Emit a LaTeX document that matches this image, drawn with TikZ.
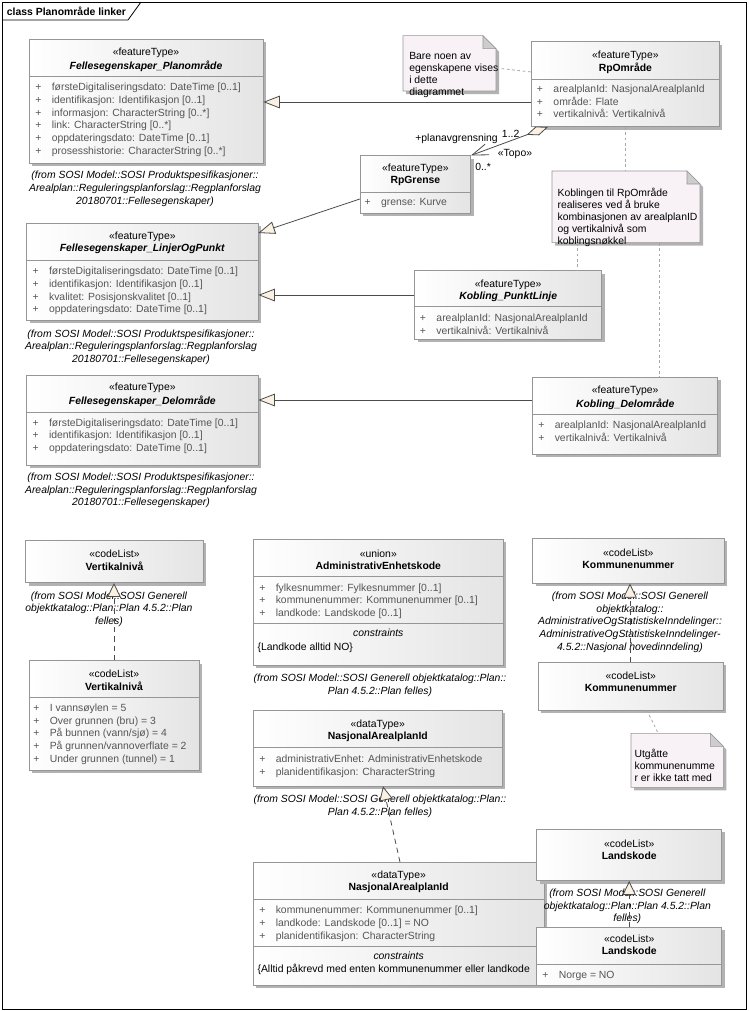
\documentclass[tikz,border=0pt]{standalone}
\usepackage{fontspec}
\setmainfont{Liberation Sans}
\usetikzlibrary{arrows.meta,fit,shadows}
\definecolor{boxline}{RGB}{150,150,150}
\definecolor{boxend}{RGB}{228,228,228}
\definecolor{notefill}{RGB}{248,242,246}
\definecolor{foldgray}{RGB}{205,205,205}
\definecolor{trifill}{RGB}{250,241,226}
\definecolor{attrgray}{RGB}{85,85,85}
\definecolor{linkgray}{RGB}{75,75,75}
\newcommand{\attr}[1]{\strut\makebox[12.4pt][l]{+}#1}
\tikzset{
  boxshadow/.style={drop shadow={shadow xshift=2.25pt, shadow yshift=-2.25pt, fill=black!30, opacity=1}},
  classbox/.style={draw=boxline, left color=white, right color=boxend, inner sep=0pt, boxshadow},
  notebox/.style={draw=boxline, fill=notefill, boxshadow},
  fold/.style={draw=boxline, fill=foldgray},
  divider/.style={draw=boxline},
  frame/.style={draw=black, line width=0.6pt},
  head/.style={font=\fontsize{7.8}{9}\selectfont, align=center, inner sep=0pt, anchor=north},
  attrs/.style={font=\fontsize{7.8}{9.5}\selectfont, text=attrgray, align=left, inner sep=0pt, anchor=north west},
  cons/.style={font=\fontsize{7.8}{9.5}\selectfont, inner sep=0pt, text height=5.7pt, text depth=1.6pt},
  fromtext/.style={font=\fontsize{7.8}{9.5}\selectfont\itshape, align=center, inner sep=0pt, anchor=north},
  notetext/.style={font=\fontsize{7.8}{9}\selectfont, align=left, inner sep=0pt, anchor=north west},
  lbl/.style={font=\fontsize{7.8}{9.5}\selectfont, inner sep=0pt, text height=5.7pt, text depth=1.6pt},
  title/.style={font=\fontsize{7.8}{9.5}\selectfont\bfseries, inner sep=0pt, anchor=west},
  gen/.style={draw=linkgray, line width=0.6pt, -{Triangle[length=12.5pt, width=9.5pt, fill=trifill]}},
  real/.style={draw=linkgray, line width=0.6pt, dash pattern=on 4pt off 3pt, -{Triangle[length=10.5pt, width=10pt, fill=trifill]}},
  agg/.style={draw=linkgray, line width=0.6pt, {Diamond[length=17pt, width=7pt, fill=trifill]}-{Straight Barb[length=12pt, width=8.5pt]}},
  notelink/.style={draw=black!35, line width=0.6pt, dash pattern=on 2pt off 2pt}
}

\begin{document}
\begin{tikzpicture}[x=0.75pt, y=-0.75pt]
  \useasboundingbox (0,0) rectangle (749,1011);
  % frame
  \draw[frame] (2,2) rectangle (746,1009);
  \draw[frame] (2,20) -- (128,20) -- (141,2);
  \node[title] (ttl) at (6.7,11) {class Planområde linker};

  % notes
  \draw[notebox] (403,35.7) -- (483,35.7) -- (496,48.7) -- (496,91) -- (403,91) -- cycle;
  \draw[fold] (483,35.7) -- (483,48.7) -- (496,48.7) -- cycle;
  \node[fit={(403,35.7) (496,91)}, inner sep=0pt] (note1) {};
  \node[notetext] (note1t) at (409,50.9) {\strut Bare noen av\\\strut egenskapene vises\\\strut i dette\\\strut diagrammet};

  \draw[notebox] (552,171) -- (687,171) -- (700,184) -- (700,242.7) -- (552,242.7) -- cycle;
  \draw[fold] (687,171) -- (687,184) -- (700,184) -- cycle;
  \node[fit={(552,171) (700,242.7)}, inner sep=0pt] (note2) {};
  \node[notetext] (note2t) at (557.3,187.5) {\strut Koblingen til RpOmråde\\\strut realiseres ved å bruke\\\strut kombinasjonen av arealplanID\\\strut og vertikalnivå som\\\strut koblingsnøkkel};

  \draw[notebox] (631,733.3) -- (710.3,733.3) -- (723.3,746.3) -- (723.3,787.3) -- (631,787.3) -- cycle;
  \draw[fold] (710.3,733.3) -- (710.3,746.3) -- (723.3,746.3) -- cycle;
  \node[fit={(631,733.3) (723.3,787.3)}, inner sep=0pt] (note3) {};
  \node[notetext] (note3t) at (634.3,749) {\strut Utgåtte\\\strut kommunenumme\\\strut r er ikke tatt med};

  % Fellesegenskaper_Planområde
  \node[classbox, fit={(29,39) (263,163)}] (plan) {};
  \draw[divider] (plan.west |- 0,76) -- (plan.east |- 0,76);
  \node[head] (planh) at (plan.north |- 0,47.2) {\strut«featureType»\\\strut\textbf{\textit{Fellesegenskaper\_Planområde}}};
  \node[attrs] (plana) at (35,81.7) {\attr{førsteDigitaliseringsdato: DateTime [0..1]}\\\attr{identifikasjon: Identifikasjon [0..1]}\\\attr{informasjon: CharacterString [0..*]}\\\attr{link: CharacterString [0..*]}\\\attr{oppdateringsdato: DateTime [0..1]}\\\attr{prosesshistorie: CharacterString [0..*]}};
  \node[fromtext] (planf) at (145,169.7) {\strut(from SOSI Model::SOSI Produktspesifikasjoner::\\\strut Arealplan::Reguleringsplanforslag::Regplanforslag\\\strut 20180701::Fellesegenskaper)};

  % RpOmråde
  \node[classbox, fit={(531.7,41.7) (719,126.7)}] (rpomr) {};
  \draw[divider] (rpomr.west |- 0,79) -- (rpomr.east |- 0,79);
  \node[head] (rpomrh) at (rpomr.north |- 0,49.5) {\strut«featureType»\\\strut\textbf{RpOmråde}};
  \node[attrs] (rpomra) at (536.7,83.4) {\attr{arealplanId: NasjonalArealplanId}\\\attr{område: Flate}\\\attr{vertikalnivå: Vertikalnivå}};

  % RpGrense
  \node[classbox, fit={(360,155.7) (470.7,213)}] (grense) {};
  \draw[divider] (grense.west |- 0,192) -- (grense.east |- 0,192);
  \node[head] (grenseh) at (grense.north |- 0,163.2) {\strut«featureType»\\\strut\textbf{RpGrense}};
  \node[attrs] (grensea) at (364.3,196.7) {\attr{grense: Kurve}};

  % Fellesegenskaper_LinjerOgPunkt
  \node[classbox, fit={(26.7,223) (258,320)}] (linj) {};
  \draw[divider] (linj.west |- 0,260.7) -- (linj.east |- 0,260.7);
  \node[head] (linjh) at (linj.north |- 0,231.2) {\strut«featureType»\\\strut\textbf{\textit{Fellesegenskaper\_LinjerOgPunkt}}};
  \node[attrs] (linja) at (32.3,265.7) {\attr{førsteDigitaliseringsdato: DateTime [0..1]}\\\attr{identifikasjon: Identifikasjon [0..1]}\\\attr{kvalitet: Posisjonskvalitet [0..1]}\\\attr{oppdateringsdato: DateTime [0..1]}};
  \node[fromtext] (linjf) at (141,328) {\strut(from SOSI Model::SOSI Produktspesifikasjoner::\\\strut Arealplan::Reguleringsplanforslag::Regplanforslag\\\strut 20180701::Fellesegenskaper)};

  % Kobling_PunktLinje
  \node[classbox, fit={(414.7,270.7) (601.7,339.3)}] (kpl) {};
  \draw[divider] (kpl.west |- 0,306.7) -- (kpl.east |- 0,306.7);
  \node[head] (kplh) at (kpl.north |- 0,278.5) {\strut«featureType»\\\strut\textbf{\textit{Kobling\_PunktLinje}}};
  \node[attrs] (kpla) at (419.7,312.4) {\attr{arealplanId: NasjonalArealplanId}\\\attr{vertikalnivå: Vertikalnivå}};

  % Fellesegenskaper_Delområde
  \node[classbox, fit={(26.7,375.3) (258,465)}] (del) {};
  \draw[divider] (del.west |- 0,412.7) -- (del.east |- 0,412.7);
  \node[head] (delh) at (del.north |- 0,381.9) {\strut«featureType»\\\strut\textbf{\textit{Fellesegenskaper\_Delområde}}};
  \node[attrs] (dela) at (32.3,417) {\attr{førsteDigitaliseringsdato: DateTime [0..1]}\\\attr{identifikasjon: Identifikasjon [0..1]}\\\attr{oppdateringsdato: DateTime [0..1]}};
  \node[fromtext] (delf) at (141,471.4) {\strut(from SOSI Model::SOSI Produktspesifikasjoner::\\\strut Arealplan::Reguleringsplanforslag::Regplanforslag\\\strut 20180701::Fellesegenskaper)};

  % Kobling_Delområde
  \node[classbox, fit={(532.7,377.3) (717.7,454)}] (kdel) {};
  \draw[divider] (kdel.west |- 0,414) -- (kdel.east |- 0,414);
  \node[head] (kdelh) at (kdel.north |- 0,385.2) {\strut«featureType»\\\strut\textbf{\textit{Kobling\_Delområde}}};
  \node[attrs] (kdela) at (538,419.7) {\attr{arealplanId: NasjonalArealplanId}\\\attr{vertikalnivå: Vertikalnivå}};

  % Vertikalnivå
  \node[classbox, fit={(25.7,540) (203.3,582.7)}] (vert1) {};
  \node[head] (vert1h) at (vert1.north |- 0,548.5) {\strut«codeList»\\\strut\textbf{Vertikalnivå}};
  \node[fromtext] (vert1f) at (109,590) {\strut(from SOSI Model::SOSI Generell\\\strut objektkatalog::Plan::Plan 4.5.2::Plan\\\strut felles)};
  \node[classbox, fit={(29,660.7) (199,770)}] (vert2) {};
  \draw[divider] (vert2.west |- 0,697.7) -- (vert2.east |- 0,697.7);
  \node[head] (vert2h) at (vert2.north |- 0,668.5) {\strut«codeList»\\\strut\textbf{Vertikalnivå}};
  \node[attrs] (vert2a) at (33,702.4) {\attr{I vannsøylen = 5}\\\attr{Over grunnen (bru) = 3}\\\attr{På bunnen (vann/sjø) = 4}\\\attr{På grunnen/vannoverflate = 2}\\\attr{Under grunnen (tunnel) = 1}};

  % AdministrativEnhetskode
  \node[classbox, fit={(253.3,539.3) (503.3,665)}] (adm) {};
  \draw[divider] (adm.west |- 0,576.7) -- (adm.east |- 0,576.7);
  \draw[divider] (adm.west |- 0,623.3) -- (adm.east |- 0,623.3);
  \node[head] (admh) at (adm.north |- 0,548.5) {\strut«union»\\\strut\textbf{AdministrativEnhetskode}};
  \node[attrs] (adma) at (259,582) {\attr{fylkesnummer: Fylkesnummer [0..1]}\\\attr{kommunenummer: Kommunenummer [0..1]}\\\attr{landkode: Landskode [0..1]}};
  \node[cons] (admc) at (adm.north |- 0,634) {\textit{constraints}};
  \node[cons, anchor=west] (admk) at (257.3,647.7) {\{Landkode alltid NO\}};
  \node[fromtext] (admf) at (380,672.4) {\strut(from SOSI Model::SOSI Generell objektkatalog::Plan::\\\strut Plan 4.5.2::Plan felles)};

  % NasjonalArealplanId
  \node[classbox, fit={(253.3,710) (502.3,786)}] (nas1) {};
  \draw[divider] (nas1.west |- 0,747.7) -- (nas1.east |- 0,747.7);
  \node[head] (nas1h) at (nas1.north |- 0,718.5) {\strut«dataType»\\\strut\textbf{NasjonalArealplanId}};
  \node[attrs] (nas1a) at (259,753.4) {\attr{administrativEnhet: AdministrativEnhetskode}\\\attr{planidentifikasjon: CharacterString}};
  \node[fromtext] (nas1f) at (380,793.4) {\strut(from SOSI Model::SOSI Generell objektkatalog::Plan::\\\strut Plan 4.5.2::Plan felles)};
  \node[classbox, fit={(253.3,862.3) (544,985)}] (nas2) {};
  \draw[divider] (nas2.west |- 0,899.3) -- (nas2.east |- 0,899.3);
  \draw[divider] (nas2.west |- 0,946.7) -- (nas2.east |- 0,946.7);
  \node[head] (nas2h) at (nas2.north |- 0,870.2) {\strut«dataType»\\\strut\textbf{NasjonalArealplanId}};
  \node[attrs] (nas2a) at (259,904.7) {\attr{kommunenummer: Kommunenummer [0..1]}\\\attr{landkode: Landskode [0..1] = NO}\\\attr{planidentifikasjon: CharacterString}};
  \node[cons] (nas2c) at (nas2.north |- 0,956.7) {\textit{constraints}};
  \node[cons, anchor=west] (nas2k) at (257.3,969.3) {\{Alltid påkrevd med enten kommunenummer eller landkode};

  % Kommunenummer
  \node[classbox, fit={(532.7,538.3) (724,583.3)}] (komm1) {};
  \node[head] (komm1h) at (komm1.north |- 0,547.5) {\strut«codeList»\\\strut\textbf{Kommunenummer}};
  \node[fromtext] (komm1f) at (630,590.4) {\strut(from SOSI Model::SOSI Generell\\\strut objektkatalog::\\\strut AdministrativeOgStatistiskeInndelinger::\\\strut AdministrativeOgStatistiskeInndelinger-\\\strut 4.5.2::Nasjonal hovedinndeling)};
  \node[classbox, fit={(538.3,662.3) (723.3,710)}] (komm2) {};
  \node[head] (komm2h) at (komm2.north |- 0,670.9) {\strut«codeList»\\\strut\textbf{Kommunenummer}};

  % Landskode
  \node[classbox, fit={(536.7,829.3) (721.7,880.7)}] (land1) {};
  \node[head] (land1h) at (land1.north |- 0,838.5) {\strut«codeList»\\\strut\textbf{Landskode}};
  \node[fromtext] (land1f) at (627.3,887.4) {\strut(from SOSI Model::SOSI Generell\\\strut objektkatalog::Plan::Plan 4.5.2::Plan\\\strut felles)};
  \node[classbox, fit={(536.7,927.3) (721.7,985)}] (land2) {};
  \draw[divider] (land2.west |- 0,964.3) -- (land2.east |- 0,964.3);
  \node[head] (land2h) at (land2.north |- 0,934.2) {\strut«codeList»\\\strut\textbf{Landskode}};
  \node[attrs] (land2a) at (542,969) {\attr{Norge = NO}};

  % generalizations
  \draw[gen] (rpomr.west |- 0,102) -- (plan.east |- 0,102);
  \draw[gen] (grense.west |- 0,199) -- (linj.east |- 0,233);
  \draw[gen] (kpl.west |- 0,295) -- (linj.east |- 0,295);
  \draw[gen] (kdel.west |- 0,400) -- (del.east |- 0,400);
  % realizations
  \draw[real] (vert2.north) -- (vert2.north |- vert1.south);
  \draw[real] (nas2.north -| 400,0) -- (nas1.south -| 383,0);
  \draw[real] (komm2.north -| 630,0) -- (komm1.south -| 630,0);
  \draw[real] (land2.north) -- (land1.south);
  % association
  \draw[agg] (rpomr.south -| 548,0) -- (grense.north east);
  \node[lbl, anchor=east] (rolle) at (498,138.7) {+planavgrensning};
  \node[lbl, anchor=west] (mult1) at (501.7,135) {1..2};
  \node[lbl] (topo) at (515,154) {«Topo»};
  \node[lbl, anchor=west] (mult2) at (475,167.7) {0..*};
  % note links
  \draw[notelink] (note1.east |- 0,68) -- (rpomr.west |- 0,72);
  \draw[notelink] (rpomr.south -| 625.5,0) -- (note2.north -| 625.5,0);
  \draw[notelink] (note2.south -| 577,0) -- (kpl.north -| 577,0);
  \draw[notelink] (note2.south -| 659,0) -- (kdel.north -| 659,0);
  \draw[notelink] (komm2.south -| 647,0) -- (note3.north -| 658,0);
\end{tikzpicture}
\end{document}
